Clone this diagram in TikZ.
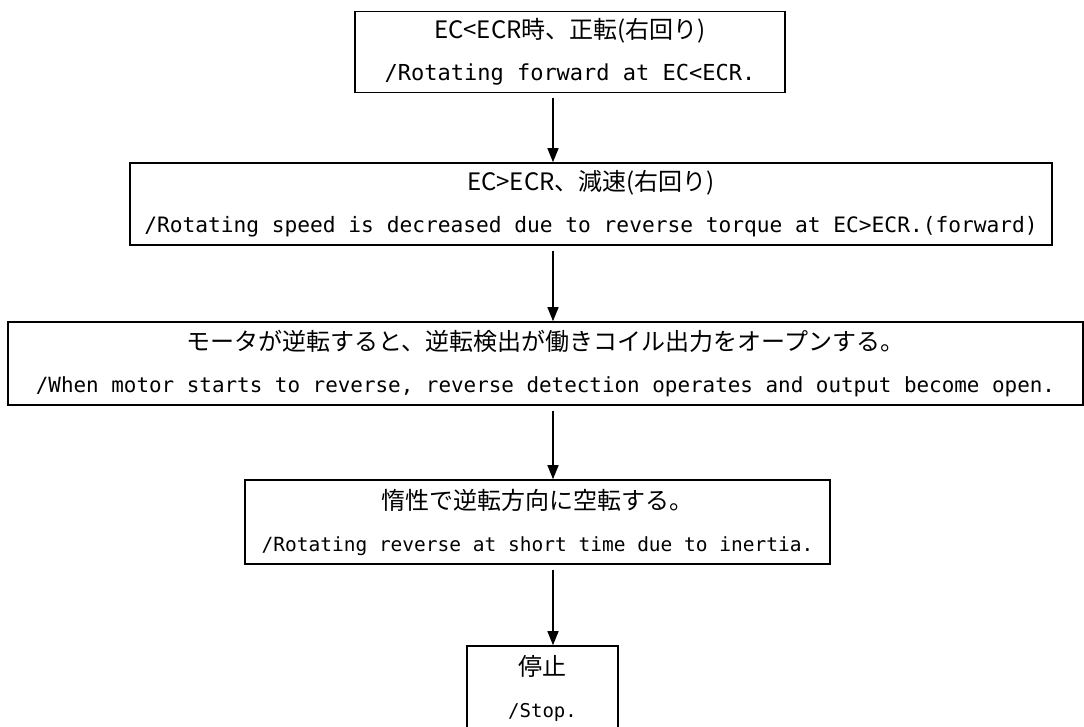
\documentclass[tikz,border=0pt]{standalone}
\usepackage{fontspec}
\setmainfont{DejaVu Sans Mono}
\newfontfamily\jpfont{Noto Sans CJK JP}
\usetikzlibrary{arrows.meta}

\begin{document}
\begin{tikzpicture}[x=1pt,y=-1pt,
  flowbox/.style={draw, line width=1.6pt, inner sep=0pt, align=center,
    font=\fontsize{24}{42}\selectfont},
  flowarrow/.style={-{Triangle[length=14pt,width=11pt]}, line width=1.4pt,
    shorten <=5pt}]
\clip (0,0) rectangle (1084,726);
% Vertical axis of the arrows
\coordinate (axis) at (553,0);
% Forward rotation
\node[flowbox, minimum width=430pt, minimum height=81pt] (fwd) at (570,52)
  {{\jpfont EC<ECR時、正転(右回り)}\\
   {\fontsize{22}{42}\selectfont /Rotating forward at EC<ECR.}};
% Deceleration
\node[flowbox, minimum width=922pt, minimum height=82pt] (decel) at (591,204)
  {{\jpfont EC>ECR、減速(右回り)}\\
   {\fontsize{21.2}{42}\selectfont /Rotating speed is decreased due to reverse torque at EC>ECR.(forward)}};
% Reverse detection
\node[flowbox, minimum width=1075pt, minimum height=83pt] (detect) at (545.5,363.5)
  {{\jpfont モータが逆転すると、逆転検出が働きコイル出力をオープンする。}\\
   {\fontsize{20.9}{42}\selectfont /When motor starts to reverse, reverse detection operates and output become open.}};
% Coasting by inertia
\node[flowbox, minimum width=585pt, minimum height=84pt] (coast) at (537.5,522)
  {{\jpfont 惰性で逆転方向に空転する。}\\
   {\fontsize{19.5}{42}\selectfont /Rotating reverse at short time due to inertia.}};
% Stop (bottom edge runs off the page)
\node[flowbox, minimum width=151pt, minimum height=84pt] (stop) at (542.5,688)
  {{\jpfont 停止}\\
   {\fontsize{19}{42}\selectfont /Stop.}};
% Arrows
\draw[flowarrow] (fwd.south -| axis) -- (decel.north -| axis);
\draw[flowarrow] (decel.south -| axis) -- (detect.north -| axis);
\draw[flowarrow] (detect.south -| axis) -- (coast.north -| axis);
\draw[flowarrow] (coast.south -| axis) -- (stop.north -| axis);
\end{tikzpicture}
\end{document}
